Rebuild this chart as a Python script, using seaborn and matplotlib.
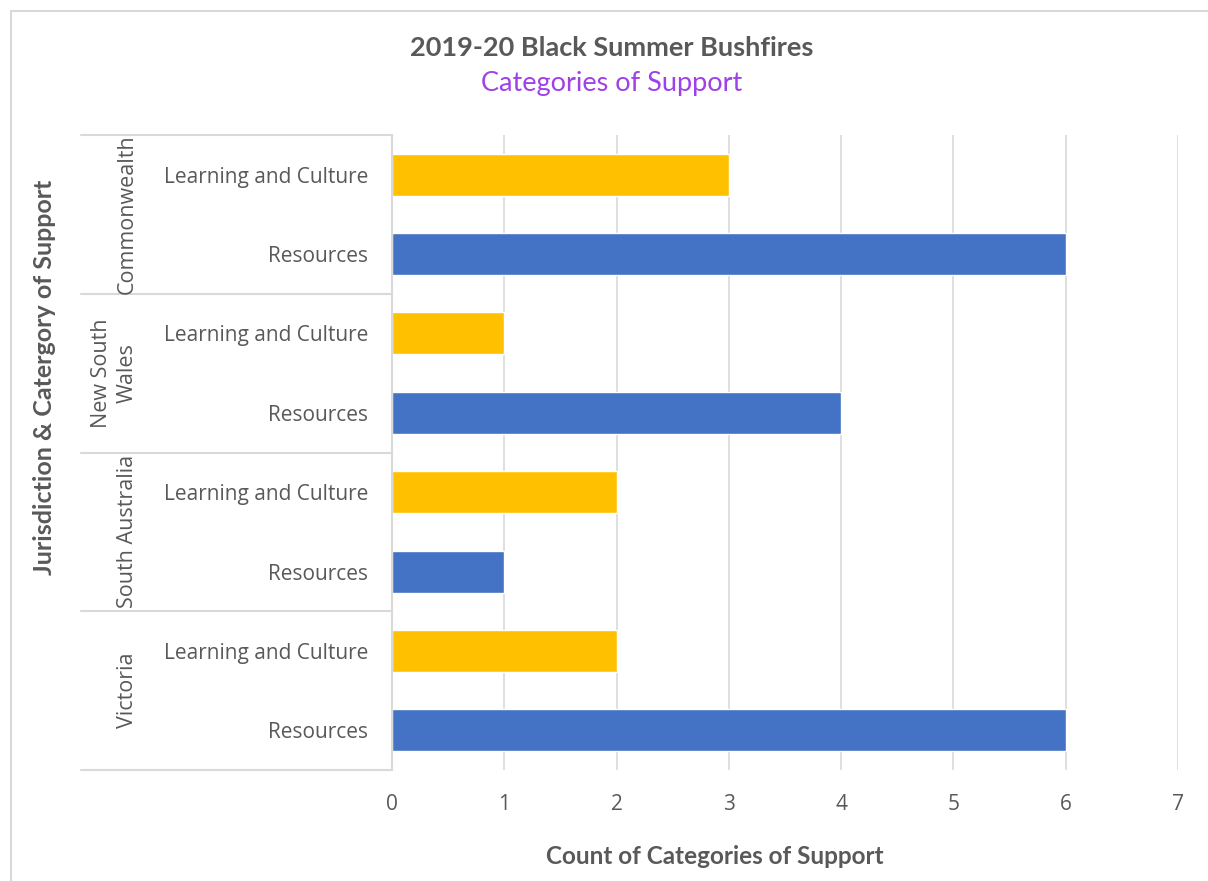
import pandas as pd
import matplotlib
matplotlib.use('Agg')
import matplotlib.pyplot as plt
import matplotlib.transforms as mtransforms
from matplotlib.lines import Line2D
from matplotlib.patches import Rectangle
import seaborn as sns

# data
jurisdictions = ['Commonwealth', 'New South\nWales', 'South Australia', 'Victoria']
categories = ['Learning and Culture', 'Resources']
learning_counts = [3, 1, 2, 2]
resources_counts = [6, 4, 1, 6]
x_ticks = [0, 1, 2, 3, 4, 5, 6, 7]

rows = []
for j, name in enumerate(jurisdictions):
    rows.append({'row': f'{name}|{categories[0]}', 'jurisdiction': name,
                 'category': categories[0], 'count': learning_counts[j]})
    rows.append({'row': f'{name}|{categories[1]}', 'jurisdiction': name,
                 'category': categories[1], 'count': resources_counts[j]})
df = pd.DataFrame(rows)

text_color = '#595959'
grid_color = '#D9D9D9'
palette = {categories[0]: '#FFC000', categories[1]: '#4472C4'}

sns.set_style('white')
plt.rcParams['font.family'] = ['Open Sans', 'DejaVu Sans']

W, H = 1208, 881
fig = plt.figure(figsize=(W / 100, H / 100), dpi=100)
ax = fig.add_axes([392 / W, 1 - 770 / H, (1178 - 392) / W, (770 - 135) / H])

sns.barplot(data=df, x='count', y='row', hue='category', palette=palette,
            dodge=False, width=0.53, orient='h', legend=False, ax=ax,
            saturation=1)

ax.set_xlim(0, 7)
ax.set_ylim(len(df) - 0.5, -0.5)
ax.set_xticks(x_ticks)
ax.set_xticklabels([str(t) for t in x_ticks])
ax.set_yticks(range(len(df)))
ax.set_yticklabels(df['category'])
ax.tick_params(axis='y', length=0, pad=17, labelsize=15, labelcolor=text_color)
ax.tick_params(axis='x', length=0, pad=17, labelsize=15, labelcolor=text_color)
ax.set_xlabel('')
ax.set_ylabel('')

ax.grid(axis='x', color=grid_color, linewidth=1.2)
ax.set_axisbelow(True)
for side in ['top', 'right', 'bottom']:
    ax.spines[side].set_visible(False)
ax.spines['left'].set_color(grid_color)
ax.spines['left'].set_linewidth(1.5)

# multi-level category axis: group separators and group labels
trans = mtransforms.blended_transform_factory(ax.transAxes, ax.transData)
x_left = (81 - 392) / (1178 - 392)
for i in range(len(jurisdictions) + 1):
    y = 2 * i - 0.5
    ax.add_line(Line2D([x_left, 0], [y, y], transform=trans, color=grid_color,
                       linewidth=1.5, clip_on=False))

x_group = (138 - 392) / (1178 - 392)
for i, name in enumerate(jurisdictions):
    ax.text(x_group, 2 * i + 0.5, name, transform=trans, rotation=90,
            ha='right', va='center', fontsize=15.5, color=text_color,
            multialignment='center', linespacing=1.3)

# titles and axis labels
fig.text(612 / W, 1 - 48 / H, '2019-20 Black Summer Bushfires', ha='center',
         va='center', fontsize=19.5, fontweight='bold', color=text_color,
         family=['Lato', 'DejaVu Sans'])
fig.text(612 / W, 1 - 84 / H, 'Categories of Support', ha='center',
         va='center', fontsize=19.5, color='#A040E8',
         family=['Lato', 'DejaVu Sans'])
fig.text(715 / W, 1 - 856 / H, 'Count of Categories of Support', ha='center',
         va='center', fontsize=17.5, fontweight='bold', color=text_color,
         family=['Lato', 'DejaVu Sans'])
fig.text(45 / W, 1 - 377 / H, 'Jurisdiction & Catergory of Support',
         ha='center', va='center', rotation=90, fontsize=18,
         fontweight='bold', color=text_color, family=['Lato', 'DejaVu Sans'])

# chart area border
fig.add_artist(Rectangle((11 / W, -0.1), 1.2, 1 - 11 / H + 0.1,
                         transform=fig.transFigure, fill=False,
                         edgecolor=grid_color, linewidth=1.5))

fig.savefig('out.png', dpi=100)
